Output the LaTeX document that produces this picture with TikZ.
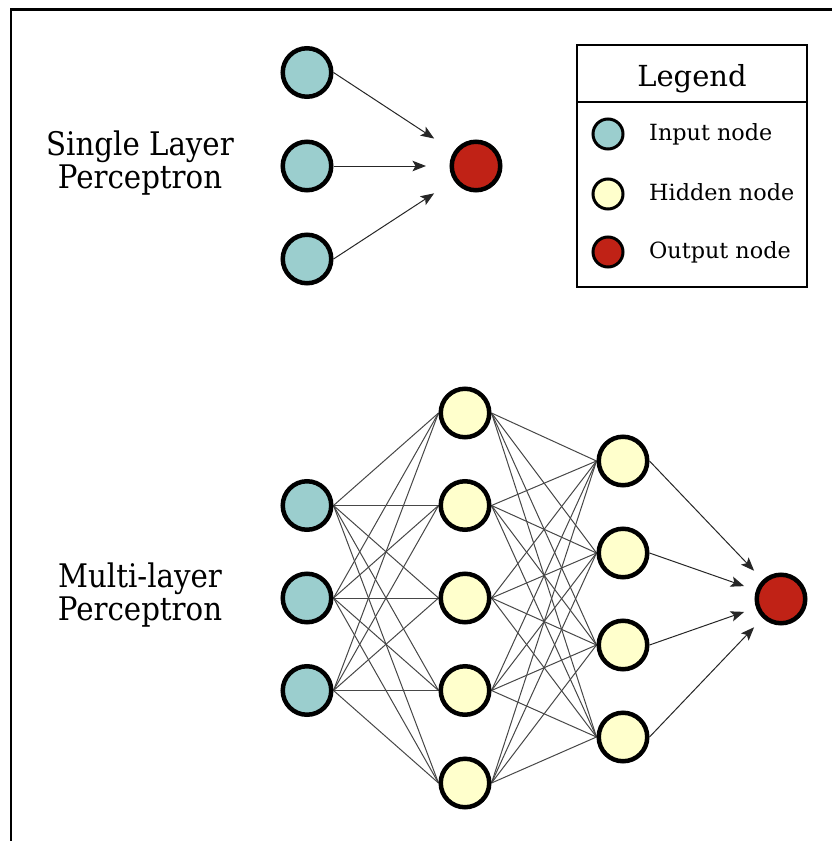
\documentclass[tikz,border=0pt]{standalone}
\usepackage{fontspec}
\setmainfont{DejaVu Serif}
\newfontfamily\labelfont[FakeStretch=0.9]{DejaVu Serif}
\usetikzlibrary{arrows.meta}
\definecolor{inC}{RGB}{155,206,206}
\definecolor{hidC}{RGB}{255,255,204}
\definecolor{outC}{RGB}{192,34,22}
\pgfdeclarelayer{bg}
\pgfsetlayers{bg,main}
\begin{document}
\begin{tikzpicture}[x=1pt,y=-1pt,
  neuron/.style={circle,draw=black,line width=4.5pt,minimum size=48.5pt,inner sep=0pt},
  inN/.style={neuron,fill=inC},
  hidN/.style={neuron,fill=hidC},
  outN/.style={neuron,fill=outC},
  lgN/.style={circle,draw=black,line width=3pt,minimum size=30pt,inner sep=0pt},
  conn/.style={draw=black!72,line width=1pt},
  arr/.style={draw=black!85,line width=1pt,-{Stealth[length=13.5pt,width=10.5pt,inset=3pt]}},
  bigtxt/.style={font=\labelfont\fontsize{32.5}{36}\selectfont,anchor=base,inner sep=0pt},
  lgtxt/.style={font=\fontsize{22.3}{26}\selectfont,anchor=base west,inner sep=0pt},
  hdtxt/.style={font=\fontsize{29}{32}\selectfont,anchor=base,inner sep=0pt}
]
\useasboundingbox (0,0) rectangle (832,841);
% frame
\draw[line width=2.5pt] (11,841) -- (11,9.5) -- (832,9.5);

% single layer perceptron
\node[bigtxt] (sl1) at (140,155) {Single Layer};
\node[bigtxt] (sl2) at (140,188) {Perceptron};
\node[inN] (si1) at (307,72.5) {};
\node[inN] (si2) at (307,166) {};
\node[inN] (si3) at (307,259) {};
\node[outN] (so) at (476,166) {};
\foreach \i in {1,2,3} {
  \draw[arr,shorten >=50pt] (si\i.east) -- (so.center);
}

% legend
\node[draw,line width=2pt,minimum width=230pt,minimum height=242pt,inner sep=0pt] (legend) at (692,166) {};
\draw[line width=2pt] (577,102) -- (807,102);
\node[hdtxt] (lgh) at (692,86) {Legend};
\node[lgN,fill=inC] (lg1) at (608,134) {};
\node[lgN,fill=hidC] (lg2) at (608,194) {};
\node[lgN,fill=outC] (lg3) at (608,252) {};
\node[lgtxt] (lt1) at (649,140.5) {Input node};
\node[lgtxt] (lt2) at (649,200.5) {Hidden node};
\node[lgtxt] (lt3) at (649,258.5) {Output node};

% multi-layer perceptron
\node[bigtxt] (ml1) at (140,587) {Multi-layer};
\node[bigtxt] (ml2) at (140,620) {Perceptron};
\node[inN] (i1) at (307,505.5) {};
\node[inN] (i2) at (307,598) {};
\node[inN] (i3) at (307,690.5) {};
\node[hidN] (h1) at (465,413) {};
\node[hidN] (h2) at (465,505.5) {};
\node[hidN] (h3) at (465,598) {};
\node[hidN] (h4) at (465,690.5) {};
\node[hidN] (h5) at (465,783) {};
\node[hidN] (g1) at (623,461) {};
\node[hidN] (g2) at (623,553) {};
\node[hidN] (g3) at (623,645) {};
\node[hidN] (g4) at (623,737) {};
\node[outN] (mo) at (781,599) {};
\begin{pgfonlayer}{bg}
\foreach \a in {1,2,3} {
  \foreach \b in {1,...,5} {
    \draw[conn] (i\a.east) -- (h\b.west);
  }
}
\foreach \a in {1,...,5} {
  \foreach \b in {1,...,4} {
    \draw[conn] (h\a.east) -- (g\b.west);
  }
}
\end{pgfonlayer}
\foreach \b in {1,...,4} {
  \draw[arr,shorten >=39pt] (g\b.east) -- (mo.center);
}
\end{tikzpicture}
\end{document}
